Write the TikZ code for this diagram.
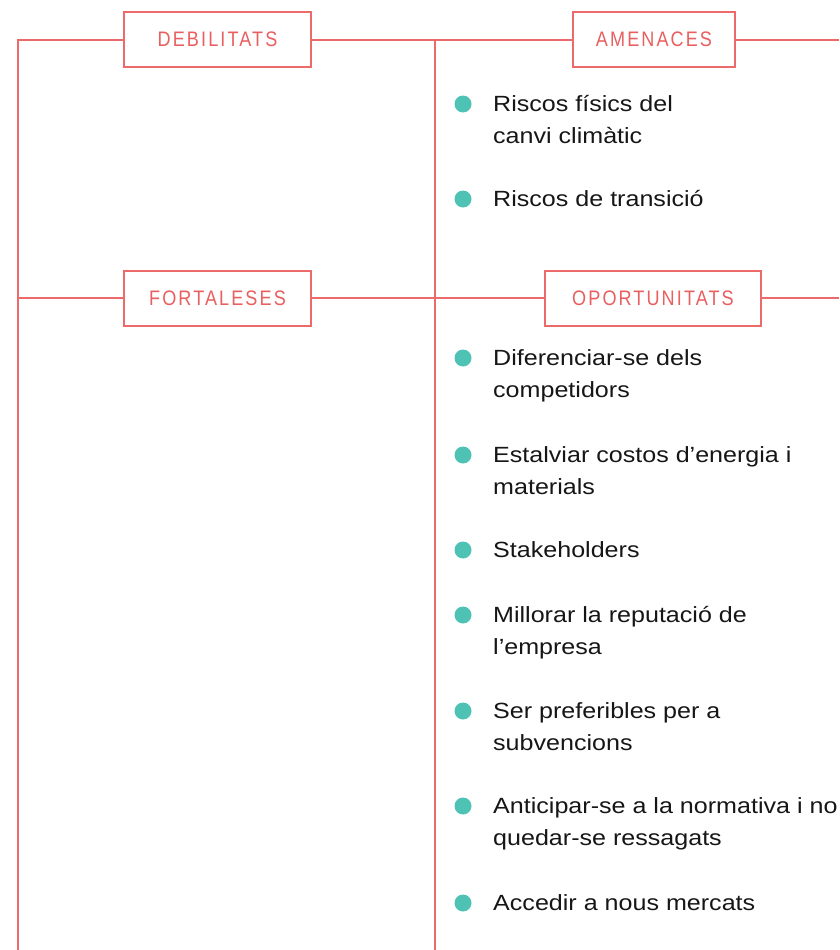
\documentclass[tikz,border=0pt]{standalone}
\usepackage{fontspec}
\setmainfont{Liberation Sans}[FakeStretch=1.14]
\newfontfamily\labelfont{Liberation Sans}[FakeStretch=0.86,LetterSpace=10]
\definecolor{linered}{HTML}{EC6A6A}
\definecolor{labelred}{HTML}{E95F5F}
\definecolor{bulletteal}{HTML}{4EC3B5}
\definecolor{bodyblack}{HTML}{161616}
\begin{document}
\begin{tikzpicture}[x=1pt,y=-1pt,
  wire/.style={draw=linered, line width=1.3pt},
  lab/.style={draw=linered, line width=1.3pt, text=labelred, fill=white,
    font=\labelfont\fontsize{21}{21}\selectfont, minimum height=55, inner sep=0},
  dot/.style={circle, fill=bulletteal, minimum size=17, inner sep=0},
  item/.style={anchor=base west, inner sep=0, text=bodyblack,
    font=\fontsize{22}{32}\selectfont}]
\useasboundingbox (0,0) rectangle (839,950);
% coordinates
\coordinate (tl) at (18,40);
\coordinate (tm) at (435,40);
\coordinate (tr) at (839,40);
\coordinate (ml) at (18,298);
\coordinate (mm) at (435,298);
\coordinate (mr) at (839,298);
\coordinate (bl) at (18,950);
\coordinate (bm) at (435,950);
% frame lines
\draw[wire] (bl) -- (tl) -- (tr);
\draw[wire] (ml) -- (mr);
\draw[wire] (tm) -- (bm);
% label boxes
\node[lab, minimum width=187] (deb) at (217.5,39.5) {DEBILITATS};
\node[lab, minimum width=162] (ame) at (654,39.5) {AMENACES};
\node[lab, minimum width=187] (fort) at (217.5,298.5) {FORTALESES};
\node[lab, minimum width=216] (opo) at (653,298.5) {OPORTUNITATS};
% bullets
\foreach \n/\y in {1/104,2/199,3/358,4/455,5/550,6/615,7/711,8/806,9/903}
  \node[dot] (b\n) at (463,\y) {};
% item texts
\node[item] (t1a) at (493,111) {Riscos físics del};
\node[item] (t1b) at (493,143) {canvi climàtic};
\node[item] (t2a) at (493,206) {Riscos de transició};
\node[item] (t3a) at (493,365) {Diferenciar-se dels};
\node[item] (t3b) at (493,397) {competidors};
\node[item] (t4a) at (493,462) {Estalviar costos d’energia i};
\node[item] (t4b) at (493,494) {materials};
\node[item] (t5a) at (493,557) {Stakeholders};
\node[item] (t6a) at (493,622) {Millorar la reputació de};
\node[item] (t6b) at (493,654) {l’empresa};
\node[item] (t7a) at (493,718) {Ser preferibles per a};
\node[item] (t7b) at (493,750) {subvencions};
\node[item] (t8a) at (493,813) {Anticipar-se a la normativa i no};
\node[item] (t8b) at (493,845) {quedar-se ressagats};
\node[item] (t9a) at (493,910) {Accedir a nous mercats};
\end{tikzpicture}
\end{document}
